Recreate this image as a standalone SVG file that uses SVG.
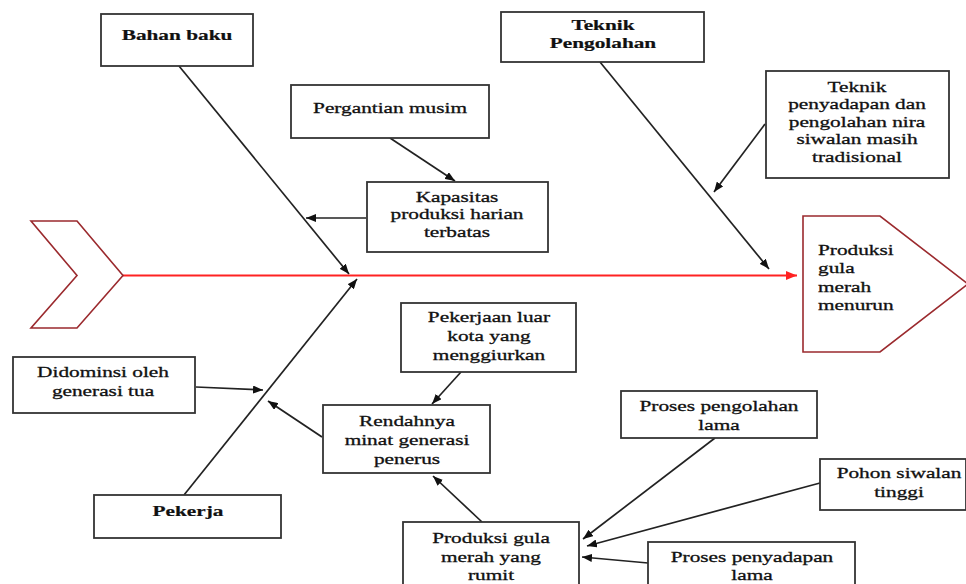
<svg xmlns="http://www.w3.org/2000/svg" width="966" height="584" viewBox="0 0 966 584">
<style>
.box{fill:#fff;stroke:#333;stroke-width:1.8}
.t{font-family:"Liberation Serif","Times New Roman",serif;font-size:15px;fill:#111;stroke:#111;stroke-width:0.3;text-anchor:middle}
.b{font-weight:bold;stroke-width:0.2}
.l{text-anchor:start}
.c{fill:none;stroke:#222;stroke-width:1.7}
.shape{fill:#fff;stroke:#9b2a2e;stroke-width:1.6}
.spine{fill:none;stroke:#f22;stroke-width:1.8}
</style>
<defs>
<marker id="ah" viewBox="0 0 10 8" refX="10" refY="4" markerWidth="10" markerHeight="8" markerUnits="userSpaceOnUse" orient="auto"><path d="M0,0 L10,4 L0,8 z" fill="#111"/></marker>
<marker id="ahr" viewBox="0 0 10 8" refX="10" refY="4" markerWidth="11" markerHeight="9" markerUnits="userSpaceOnUse" orient="auto"><path d="M0,0 L10,4 L0,8 z" fill="#f22"/></marker>
</defs>
<rect width="966" height="584" fill="#fff"/>

<g id="connectors">
<line class="spine" x1="123" y1="275.5" x2="797" y2="275.5" marker-end="url(#ahr)"/>
<line class="c" x1="179" y1="66" x2="349" y2="274" marker-end="url(#ah)"/>
<line class="c" x1="184" y1="495" x2="357" y2="279" marker-end="url(#ah)"/>
<line class="c" x1="600" y1="62" x2="769" y2="269" marker-end="url(#ah)"/>
<line class="c" x1="390" y1="138" x2="455" y2="181" marker-end="url(#ah)"/>
<line class="c" x1="366" y1="218" x2="306" y2="218" marker-end="url(#ah)"/>
<line class="c" x1="765" y1="124" x2="714" y2="192" marker-end="url(#ah)"/>
<line class="c" x1="196" y1="387" x2="263" y2="390" marker-end="url(#ah)"/>
<line class="c" x1="322" y1="437" x2="268" y2="401" marker-end="url(#ah)"/>
<line class="c" x1="461" y1="372" x2="432" y2="404" marker-end="url(#ah)"/>
<line class="c" x1="482" y1="522" x2="433" y2="476" marker-end="url(#ah)"/>
<line class="c" x1="715" y1="438" x2="583" y2="539" marker-end="url(#ah)"/>
<line class="c" x1="820" y1="483" x2="587" y2="546" marker-end="url(#ah)"/>
<line class="c" x1="648" y1="563" x2="582" y2="557" marker-end="url(#ah)"/>
</g>

<g id="tail"><polygon class="shape" points="31,221 77,221 123,275.5 77,328 31,328 77,275.5"/></g>

<g id="head">
<polygon class="shape" points="803,216 880,216 968,284 880,352 803,352"/>
<text class="t l" transform="matrix(1.42 0 0 1 818 0)"><tspan x="0" y="255">Produksi</tspan><tspan x="0" y="273.5">gula</tspan><tspan x="0" y="292">merah</tspan><tspan x="0" y="310.5">menurun</tspan></text>
</g>

<g id="bahan-baku">
<rect class="box" x="101" y="14" width="152" height="52"/>
<text class="t b" transform="matrix(1.42 0 0 1 177 0)"><tspan x="0" y="40">Bahan baku</tspan></text>
</g>

<g id="pergantian-musim">
<rect class="box" x="291" y="85" width="198" height="53"/>
<text class="t" transform="matrix(1.42 0 0 1 390 0)"><tspan x="0" y="113">Pergantian musim</tspan></text>
</g>

<g id="kapasitas">
<rect class="box" x="367" y="182" width="181" height="70"/>
<text class="t" transform="matrix(1.42 0 0 1 457 0)"><tspan x="0" y="202">Kapasitas</tspan><tspan x="0" y="219.5">produksi harian</tspan><tspan x="0" y="237">terbatas</tspan></text>
</g>

<g id="teknik-pengolahan">
<rect class="box" x="501" y="12" width="203" height="50"/>
<text class="t b" transform="matrix(1.42 0 0 1 603 0)"><tspan x="0" y="30">Teknik</tspan><tspan x="0" y="48">Pengolahan</tspan></text>
</g>

<g id="teknik-penyadapan">
<rect class="box" x="766" y="71" width="183" height="107"/>
<text class="t" transform="matrix(1.42 0 0 1 857 0)"><tspan x="0" y="92">Teknik</tspan><tspan x="0" y="109.5">penyadapan dan</tspan><tspan x="0" y="127">pengolahan nira</tspan><tspan x="0" y="144.5">siwalan masih</tspan><tspan x="0" y="162">tradisional</tspan></text>
</g>

<g id="didominsi">
<rect class="box" x="13" y="357" width="182" height="56"/>
<text class="t" transform="matrix(1.42 0 0 1 103 0)"><tspan x="0" y="377">Didominsi oleh</tspan><tspan x="0" y="396">generasi tua</tspan></text>
</g>

<g id="pekerja">
<rect class="box" x="94" y="495" width="187" height="43"/>
<text class="t b" transform="matrix(1.42 0 0 1 188 0)"><tspan x="0" y="516">Pekerja</tspan></text>
</g>

<g id="pekerjaan-luar-kota">
<rect class="box" x="401" y="303" width="175" height="69"/>
<text class="t" transform="matrix(1.42 0 0 1 489 0)"><tspan x="0" y="322">Pekerjaan luar</tspan><tspan x="0" y="341.5">kota yang</tspan><tspan x="0" y="360">menggiurkan</tspan></text>
</g>

<g id="rendahnya-minat">
<rect class="box" x="323" y="405" width="167" height="68"/>
<text class="t" transform="matrix(1.42 0 0 1 407 0)"><tspan x="0" y="426">Rendahnya</tspan><tspan x="0" y="445">minat generasi</tspan><tspan x="0" y="464">penerus</tspan></text>
</g>

<g id="produksi-rumit">
<rect class="box" x="403" y="522" width="176" height="70"/>
<text class="t" transform="matrix(1.42 0 0 1 491 0)"><tspan x="0" y="543">Produksi gula</tspan><tspan x="0" y="562">merah yang</tspan><tspan x="0" y="580.5">rumit</tspan></text>
</g>

<g id="proses-pengolahan">
<rect class="box" x="621" y="391" width="196" height="47"/>
<text class="t" transform="matrix(1.42 0 0 1 719 0)"><tspan x="0" y="411">Proses pengolahan</tspan><tspan x="0" y="430">lama</tspan></text>
</g>

<g id="pohon-siwalan">
<rect class="box" x="820" y="459" width="146" height="51"/>
<text class="t" transform="matrix(1.42 0 0 1 899 0)"><tspan x="0" y="478">Pohon siwalan</tspan><tspan x="0" y="497">tinggi</tspan></text>
</g>

<g id="proses-penyadapan">
<rect class="box" x="648" y="542" width="207" height="50"/>
<text class="t" transform="matrix(1.42 0 0 1 752 0)"><tspan x="0" y="562">Proses penyadapan</tspan><tspan x="0" y="580.5">lama</tspan></text>
</g>
</svg>
